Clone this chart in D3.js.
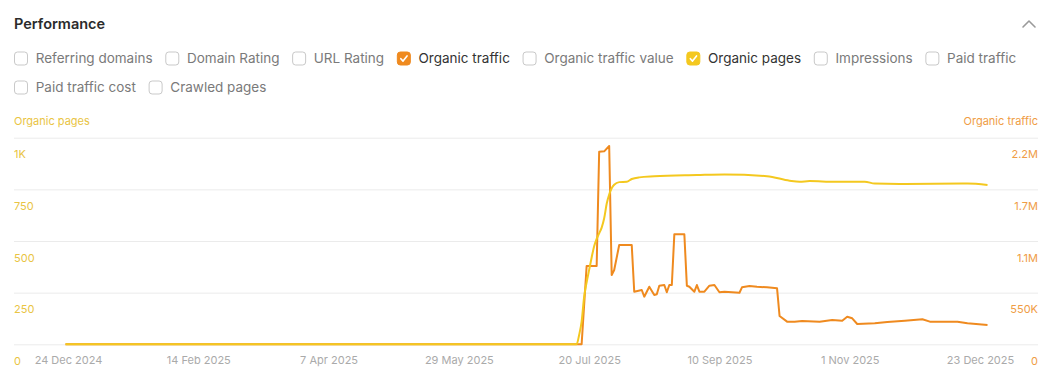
<!DOCTYPE html>
<html>
<head>
<meta charset="utf-8">
<script src="https://cdn.jsdelivr.net/npm/d3@7"></script>
<style>
  html, body { margin: 0; padding: 0; background: #fff; }
  svg { display: block; font-family: Inter, "Noto Sans", sans-serif; }
</style>
</head>
<body>
<svg id="chart" width="1052" height="379"></svg>
<script>
// ---------- data ----------
const legendItems = ["Referring domains","Domain Rating","URL Rating","Organic traffic","Organic traffic value","Organic pages","Impressions","Paid traffic","Paid traffic cost","Crawled pages"];
const legendChecked = ["", "", "", "orange", "", "yellow", "", "", "", ""];

const xTickDates = ["2024-12-24","2025-02-14","2025-04-07","2025-05-29","2025-07-20","2025-09-10","2025-11-01","2025-12-23"];

const pageTicks = [0, 250, 500, 750, 1000];
const pageTickLabels = ["0", "250", "500", "750", "1K"];
const trafficTicks = [0, 550000, 1100000, 1650000, 2200000];
const trafficTickLabels = ["0", "550K", "1.1M", "1.7M", "2.2M"];

const trafficDates = ["2024-12-23","2025-07-16","2025-07-17","2025-07-19","2025-07-23","2025-07-24","2025-07-26","2025-07-28","2025-07-29","2025-07-30","2025-08-01","2025-08-06","2025-08-07","2025-08-10","2025-08-11","2025-08-13","2025-08-15","2025-08-16","2025-08-17","2025-08-19","2025-08-20","2025-08-21","2025-08-22","2025-08-23","2025-08-27","2025-08-28","2025-08-29","2025-08-31","2025-09-01","2025-09-02","2025-09-04","2025-09-06","2025-09-08","2025-09-10","2025-09-12","2025-09-15","2025-09-18","2025-09-19","2025-09-22","2025-09-25","2025-09-29","2025-10-03","2025-10-04","2025-10-07","2025-10-10","2025-10-13","2025-10-20","2025-10-25","2025-10-29","2025-10-31","2025-11-02","2025-11-04","2025-11-11","2025-11-16","2025-11-23","2025-11-30","2025-12-03","2025-12-14","2025-12-18","2025-12-26"];
const trafficValues = [0,0,0,834000,834000,2051000,2055000,2111000,738000,791000,1057000,1057000,560000,578000,507000,613000,525000,532000,624000,631000,554000,631000,631000,1171000,1171000,624000,613000,560000,631000,560000,560000,624000,631000,554000,560000,554000,549000,607000,621000,613000,607000,596000,301000,241000,241000,248000,241000,259000,251000,294000,277000,216000,224000,237000,251000,266000,241000,241000,224000,206000];

const pagesDates = ["2024-12-23","2025-07-15","2025-07-16","2025-07-17","2025-07-18","2025-07-19","2025-07-20","2025-07-21","2025-07-22","2025-07-23","2025-07-24","2025-07-25","2025-07-26","2025-07-27","2025-07-28","2025-07-29","2025-07-30","2025-08-01","2025-08-04","2025-08-06","2025-08-09","2025-08-15","2025-09-01","2025-09-12","2025-09-29","2025-10-08","2025-10-12","2025-10-16","2025-10-26","2025-11-07","2025-11-11","2025-11-21","2025-12-18","2025-12-26"];
const pagesValues = [0,0,45,110,230,300,360,420,475,510,537,565,610,680,725,755,772,785,787,800,808,813,819,822,814,792,787,790,787,787,778,776,778,771];

// ---------- setup ----------
const parse = d3.utcParse("%Y-%m-%d");
const fmt = d3.utcFormat("%-d %b %Y");
const svg = d3.select("#chart");

const colOrange = "#ef8a1f";
const colYellow = "#f4c81f";
const colLeftText = "#e9c443";
const colRightText = "#ef9d45";

const gridLeft = 14, gridRight = 1038;
const yTop = 137.7, yBottom = 344.3;

const x = d3.scaleUtc().domain([parse("2024-12-24"), parse("2025-12-23")]).range([68, 980]);
const yPages = d3.scaleLinear().domain([0, 1000]).range([yBottom, yTop]);
const yTraffic = d3.scaleLinear().domain([0, 2200000]).range([yBottom, yTop]);

// ---------- header ----------
svg.append("text").attr("x", 14).attr("y", 29)
  .attr("font-size", 14.5).attr("font-weight", 600).attr("fill", "#2b2b2b")
  .text("Performance");
svg.append("path").attr("d", "M1023,27 L1029,21 L1035,27")
  .attr("fill", "none").attr("stroke", "#9a9a9a").attr("stroke-width", 1.6)
  .attr("stroke-linecap", "round").attr("stroke-linejoin", "round");

// ---------- legend ----------
const rows = [[0,1,2,3,4,5,6,7],[8,9]];
const rowY = [58.5, 87.5];
rows.forEach((row, ri) => {
  let cx = 14;
  row.forEach(i => {
    const g = svg.append("g").attr("transform", `translate(${cx},${rowY[ri]})`);
    const c = legendChecked[i];
    g.append("rect").attr("x", 0.5).attr("y", -6.5).attr("width", 13).attr("height", 13).attr("rx", 3)
      .attr("fill", c === "orange" ? colOrange : c === "yellow" ? colYellow : "#fff")
      .attr("stroke", c === "orange" ? colOrange : c === "yellow" ? colYellow : "#c9c9c9");
    if (c) {
      g.append("path").attr("d", "M4,0.2 L6.2,2.6 L10.2,-2.6").attr("fill", "none")
        .attr("stroke", "#fff").attr("stroke-width", 1.6).attr("stroke-linecap", "round").attr("stroke-linejoin", "round");
    }
    const t = g.append("text").attr("x", 21.7).attr("y", 4.8)
      .attr("font-size", 13.5).attr("fill", c ? "#333" : "#7a7a7a").text(legendItems[i]);
    const w = t.node().getComputedTextLength();
    cx += 21.7 + w + 12.7;
  });
});

// ---------- axis titles ----------
svg.append("text").attr("x", 14).attr("y", 125).attr("font-size", 11).attr("fill", colLeftText).text("Organic pages");
svg.append("text").attr("x", gridRight).attr("y", 125).attr("font-size", 11).attr("fill", colRightText)
  .attr("text-anchor", "end").text("Organic traffic");

// ---------- left axis (gridlines + labels) ----------
const leftAxis = svg.append("g").attr("transform", `translate(${gridLeft},0)`)
  .call(d3.axisLeft(yPages).tickValues(pageTicks).tickFormat((d, i) => pageTickLabels[i])
    .tickSize(-(gridRight - gridLeft)));
leftAxis.select(".domain").remove();
leftAxis.selectAll(".tick line").attr("stroke", "#ebebeb");
leftAxis.selectAll(".tick text").attr("x", 0).attr("dy", null).attr("y", 20)
  .attr("text-anchor", "start").attr("font-family", "Inter").attr("font-size", 11).attr("fill", colLeftText);

// ---------- right axis (labels) ----------
const rightAxis = svg.append("g").attr("transform", `translate(${gridRight},0)`)
  .call(d3.axisRight(yTraffic).tickValues(trafficTicks).tickFormat((d, i) => trafficTickLabels[i]).tickSize(0));
rightAxis.select(".domain").remove();
rightAxis.selectAll(".tick line").remove();
rightAxis.selectAll(".tick text").attr("x", 0).attr("dy", null).attr("y", 20)
  .attr("text-anchor", "end").attr("font-family", "Inter").attr("font-size", 11).attr("fill", colRightText);

// ---------- x axis ----------
const xAxis = svg.append("g").attr("transform", `translate(0,${yBottom})`)
  .call(d3.axisBottom(x).tickValues(xTickDates.map(parse)).tickFormat(fmt).tickSize(0));
xAxis.select(".domain").remove();
xAxis.selectAll(".tick text").attr("y", 20).attr("dy", null)
  .attr("font-family", "Inter").attr("font-size", 11).attr("fill", "#aaaaaa");

// ---------- lines ----------
const trafficData = trafficDates.map((d, i) => ({ date: parse(d), value: trafficValues[i] }));
const pagesData = pagesDates.map((d, i) => ({ date: parse(d), value: pagesValues[i] }));

svg.append("path").datum(trafficData)
  .attr("fill", "none").attr("stroke", colOrange).attr("stroke-width", 2).attr("stroke-linejoin", "round")
  .attr("d", d3.line().x(d => x(d.date)).y(d => yTraffic(d.value)));

svg.append("path").datum(pagesData)
  .attr("fill", "none").attr("stroke", colYellow).attr("stroke-width", 2).attr("stroke-linejoin", "round")
  .attr("d", d3.line().curve(d3.curveMonotoneX).x(d => x(d.date)).y(d => yPages(d.value)));
</script>
</body>
</html>
